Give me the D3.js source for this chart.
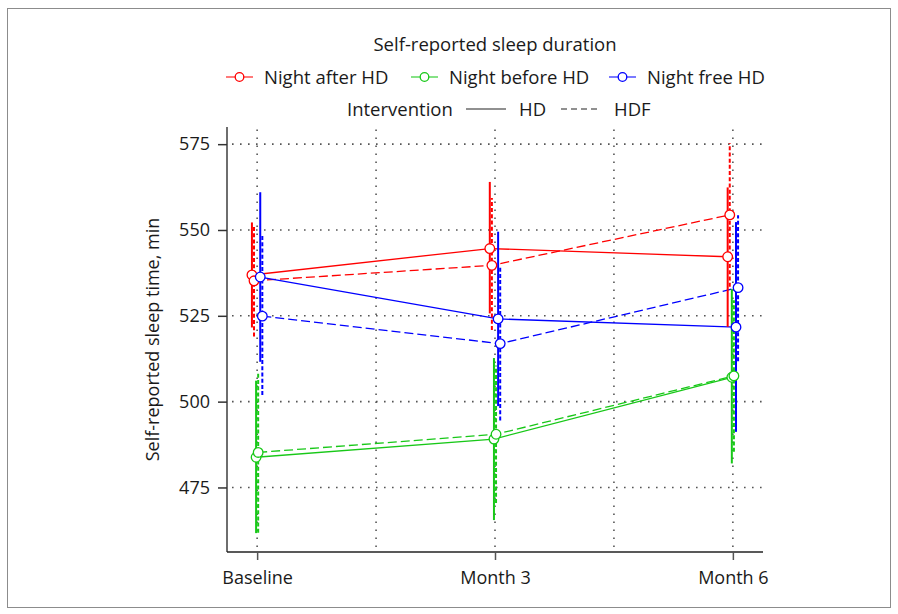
<!DOCTYPE html>
<html>
<head>
<meta charset="utf-8">
<script src="https://cdn.jsdelivr.net/npm/d3@7"></script>
<style>
  html, body { margin: 0; padding: 0; background: #fff; }
  svg { display: block; }
  text { font-family: "Open Sans", "Noto Sans", sans-serif; fill: #1a1a1a; }
</style>
</head>
<body>
<svg id="chart" width="898" height="614"></svg>
<script>
// Time points and their position in months
const timeLabels = ["Baseline", "Month 3", "Month 6"];
const timeMonths = [0, 3, 6];

// Series identities
const nights = ["Night after HD", "Night before HD", "Night free HD"];
const nightColors = ["#ff0000", "#18c818", "#0000ff"];
const interventions = ["HD", "HDF"];

// Y axis ticks
const yTicks = [475, 500, 525, 550, 575];

// Mean self-reported sleep time (min) with 95% CI, per night type and intervention
const afterHD_HD_mean  = [536.9, 544.6, 542.2];
const afterHD_HD_lo    = [521.6, 525.7, 521.8];
const afterHD_HD_hi    = [552.2, 564.0, 562.4];
const afterHD_HDF_mean = [535.2, 539.7, 554.4];
const afterHD_HDF_lo   = [519.0, 520.9, 533.5];
const afterHD_HDF_hi   = [551.4, 559.3, 575.3];

const beforeHD_HD_mean  = [483.8, 489.1, 507.1];
const beforeHD_HD_lo    = [461.7, 465.5, 482.0];
const beforeHD_HD_hi    = [506.1, 512.7, 532.8];
const beforeHD_HDF_mean = [485.2, 490.5, 507.5];
const beforeHD_HDF_lo   = [461.8, 470.5, 485.4];
const beforeHD_HDF_hi   = [508.6, 510.5, 529.5];

const freeHD_HD_mean  = [536.3, 524.1, 521.7];
const freeHD_HD_lo    = [511.6, 498.7, 491.2];
const freeHD_HD_hi    = [561.0, 549.5, 552.3];
const freeHD_HDF_mean = [524.9, 516.9, 533.2];
const freeHD_HDF_lo   = [501.9, 494.5, 511.8];
const freeHD_HDF_hi   = [548.5, 539.3, 554.3];

// Assemble series table from the arrays above
const series = [
  { night: 0, iv: "HD",  mean: afterHD_HD_mean,   lo: afterHD_HD_lo,   hi: afterHD_HD_hi },
  { night: 0, iv: "HDF", mean: afterHD_HDF_mean,  lo: afterHD_HDF_lo,  hi: afterHD_HDF_hi },
  { night: 1, iv: "HD",  mean: beforeHD_HD_mean,  lo: beforeHD_HD_lo,  hi: beforeHD_HD_hi },
  { night: 1, iv: "HDF", mean: beforeHD_HDF_mean, lo: beforeHD_HDF_lo, hi: beforeHD_HDF_hi },
  { night: 2, iv: "HD",  mean: freeHD_HD_mean,    lo: freeHD_HD_lo,    hi: freeHD_HD_hi },
  { night: 2, iv: "HDF", mean: freeHD_HDF_mean,   lo: freeHD_HDF_lo,   hi: freeHD_HDF_hi }
].map((s, i) => ({
  ...s,
  key: i,
  color: nightColors[s.night],
  points: timeMonths.map((m, j) => ({ m, mean: s.mean[j], lo: s.lo[j], hi: s.hi[j] }))
}));

const svg = d3.select("#chart");
const fontSize = 18;
const legendFont = 18.5;

// Outer frame
svg.append("rect")
  .attr("x", 7.5).attr("y", 8.5)
  .attr("width", 883).attr("height", 599)
  .attr("fill", "none").attr("stroke", "#8c8c8c").attr("stroke-width", 1);

// Plot region
const plotLeft = 227, plotRight = 763, plotTop = 127, plotBottom = 552;

const x = d3.scaleLinear().domain([-0.38, 6.38]).range([plotLeft, plotRight]);
const y = d3.scaleLinear().domain([456.2, 580]).range([plotBottom, plotTop]);

// Small horizontal dodge so the six series do not overlap
const dodge = d3.scalePoint().domain(series.map(s => s.key)).range([-5.2, 5.2]);

// Dotted grid
const gridDash = "1.6,6.4";
const grid = svg.append("g");
grid.selectAll("line.h").data(yTicks).join("line")
  .attr("class", "h")
  .attr("x1", plotLeft).attr("x2", plotRight)
  .attr("y1", d => y(d)).attr("y2", d => y(d))
  .attr("stroke", "#555").attr("stroke-width", 1.6)
  .attr("stroke-dasharray", gridDash).attr("stroke-dashoffset", -5);
const vGrid = d3.range(0, 6.01, 1.5);
grid.selectAll("line.v").data(vGrid).join("line")
  .attr("class", "v")
  .attr("x1", d => x(d)).attr("x2", d => x(d))
  .attr("y1", plotBottom).attr("y2", plotTop)
  .attr("stroke", "#555").attr("stroke-width", 1.6)
  .attr("stroke-dasharray", gridDash).attr("stroke-dashoffset", -5);

// Axes
const yAxis = d3.axisLeft(y).tickValues(yTicks).tickSize(9).tickPadding(8);
const gy = svg.append("g").attr("transform", `translate(${plotLeft},0)`).call(yAxis);
gy.select(".domain").attr("d", `M0,${plotTop}V${plotBottom}`).attr("stroke", "#6e6e6e").attr("stroke-width", 2);
gy.selectAll(".tick line").attr("stroke", "#333").attr("stroke-width", 1.5);
gy.selectAll(".tick text").attr("font-size", fontSize).attr("fill", "#1a1a1a")
  .style("font-family", "'Open Sans', 'Noto Sans', sans-serif");

const xAxis = d3.axisBottom(x).tickValues(timeMonths)
  .tickFormat((d, i) => timeLabels[i]).tickSize(8).tickPadding(11);
const gx = svg.append("g").attr("transform", `translate(0,${plotBottom})`).call(xAxis);
gx.select(".domain").attr("d", `M${plotLeft},0H${plotRight}`).attr("stroke", "#222").attr("stroke-width", 1.5);
gx.selectAll(".tick line").attr("stroke", "#555").attr("stroke-width", 1.5);
gx.selectAll(".tick text").attr("font-size", fontSize).attr("fill", "#1a1a1a")
  .style("font-family", "'Open Sans', 'Noto Sans', sans-serif");

// Y axis title
svg.append("text")
  .attr("transform", `translate(159,${(plotTop + plotBottom) / 2}) rotate(-90)`)
  .attr("text-anchor", "middle")
  .attr("font-size", fontSize)
  .text("Self-reported sleep time, min");

const lineDash = "9,4";
const barDash = "4,2.2";

// Connecting lines
const line = d3.line()
  .x(d => x(d.m) + d.dx)
  .y(d => y(d.mean));

const sg = svg.append("g");
series.forEach(s => {
  const pts = s.points.map(p => ({ ...p, dx: dodge(s.key) }));
  sg.append("path")
    .datum(pts)
    .attr("d", line)
    .attr("fill", "none")
    .attr("stroke", s.color)
    .attr("stroke-width", 1.3)
    .attr("stroke-dasharray", s.iv === "HDF" ? lineDash : null);
});

// Confidence interval bars
series.forEach(s => {
  sg.append("g").selectAll("line").data(s.points).join("line")
    .attr("x1", d => x(d.m) + dodge(s.key))
    .attr("x2", d => x(d.m) + dodge(s.key))
    .attr("y1", d => y(d.lo))
    .attr("y2", d => y(d.hi))
    .attr("stroke", s.color)
    .attr("stroke-width", 2)
    .attr("stroke-dasharray", s.iv === "HDF" ? barDash : null);
});

// Mean markers
series.forEach(s => {
  sg.append("g").selectAll("circle").data(s.points).join("circle")
    .attr("cx", d => x(d.m) + dodge(s.key))
    .attr("cy", d => y(d.mean))
    .attr("r", 4.8)
    .attr("fill", "#fff")
    .attr("stroke", s.color)
    .attr("stroke-width", 1.3);
});

// Legend
const legend = svg.append("g");
legend.append("text")
  .attr("x", 495).attr("y", 50.5)
  .attr("text-anchor", "middle").attr("font-size", legendFont)
  .text("Self-reported sleep duration");

const keyX = [226, 411, 609];
nights.forEach((n, i) => {
  const g = legend.append("g").attr("transform", `translate(${keyX[i]},77)`);
  g.append("line").attr("x1", 0).attr("x2", 27).attr("y1", 0).attr("y2", 0)
    .attr("stroke", nightColors[i]).attr("stroke-width", 1.3).attr("opacity", 0.8);
  g.append("circle").attr("cx", 13.5).attr("cy", 0).attr("r", 4.3)
    .attr("fill", "#fff").attr("stroke", nightColors[i]).attr("stroke-width", 1.3);
  g.append("text").attr("x", 38).attr("y", 6.5).attr("font-size", legendFont).text(n);
});

const row2 = legend.append("g").attr("transform", "translate(0,109)");
row2.append("text").attr("x", 347).attr("y", 6.5).attr("font-size", legendFont).text("Intervention");
const ivKeyX = [466, 561];
interventions.forEach((iv, i) => {
  row2.append("line").attr("x1", ivKeyX[i]).attr("x2", ivKeyX[i] + 40)
    .attr("y1", 0).attr("y2", 0)
    .attr("stroke", "#222").attr("stroke-width", 1.2)
    .attr("stroke-dasharray", iv === "HDF" ? "6,4" : null);
  row2.append("text").attr("x", ivKeyX[i] + 53).attr("y", 6.5).attr("font-size", legendFont).text(iv);
});
</script>
</body>
</html>
